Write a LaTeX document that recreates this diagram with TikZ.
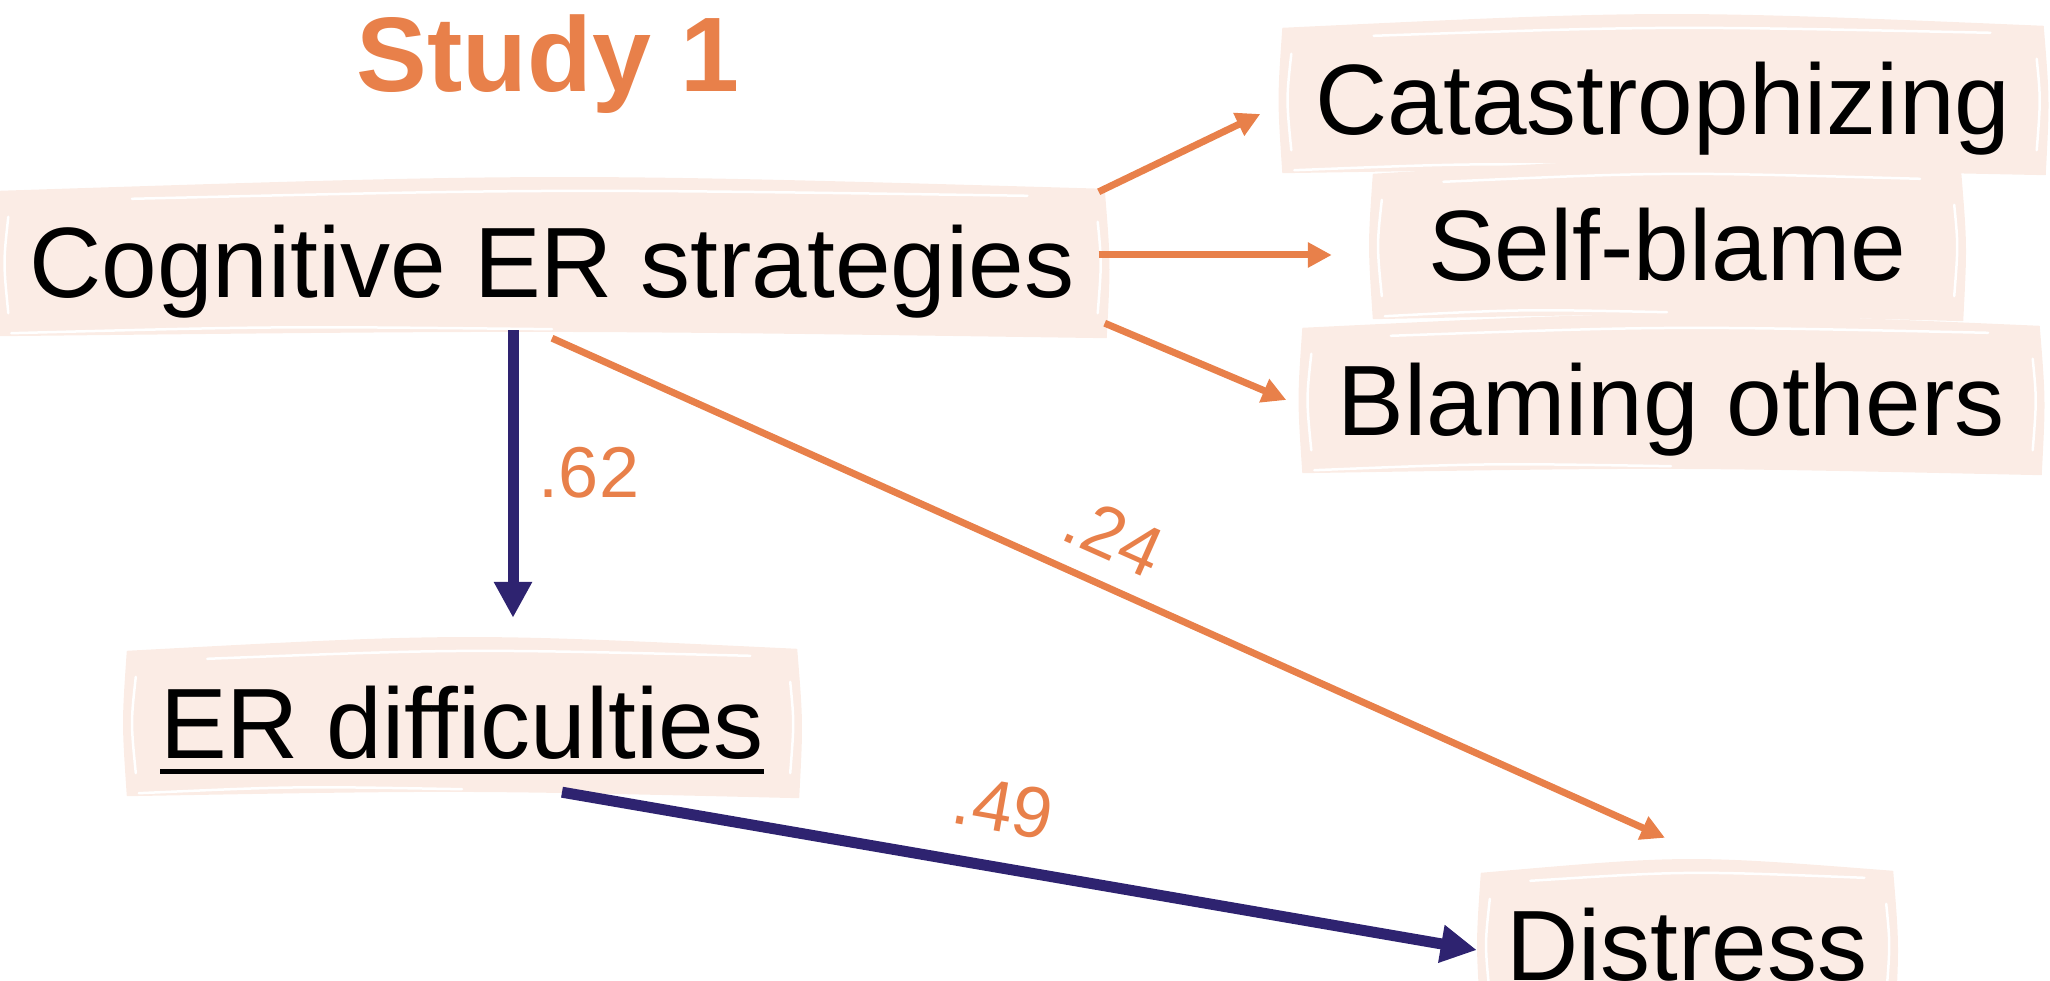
\documentclass[tikz,border=0pt]{standalone}
\usepackage{fontspec}
\setmainfont{Liberation Sans}
\usetikzlibrary{arrows.meta,backgrounds,calc}

\definecolor{studyorange}{HTML}{E8804A}
\definecolor{pathnavy}{HTML}{2E2370}
\definecolor{boxpeach}{HTML}{FBECE5}

\newcommand\boxfont{\fontsize{100}{110}\selectfont}
\newcommand\coeffont{\fontsize{72}{80}\selectfont}
\newcommand\titlefont{\fontsize{106}{120}\selectfont\bfseries}
\newcommand\underrule[1]{\setbox0\hbox{#1}\rlap{\rule[-15.5pt]{\wd0}{5pt}}\box0}

% hand-drawn looking box behind a node
\newcommand\sketchbox[1]{%
  \fill[boxpeach] ($(#1.north west)+(0,4)$)
    .. controls ($(#1.north)+(0,-14)$) .. ($(#1.north east)+(0,2)$)
    .. controls ($(#1.east)+(6,0)$) .. ($(#1.south east)+(2,0)$)
    .. controls ($(#1.south)+(0,-8)$) .. ($(#1.south west)+(0,-2)$)
    .. controls ($(#1.west)+(-5,0)$) .. ($(#1.north west)+(0,4)$) -- cycle;
  \draw[sketch] ($(#1.north west)!0.12!(#1.north east)+(0,12)$)
    .. controls ($(#1.north)+(0,2)$) .. ($(#1.north west)!0.93!(#1.north east)+(0,9)$);
  \draw[sketch] ($(#1.south west)+(12,-5)$)
    .. controls ($(#1.south west)!0.25!(#1.south east)+(0,-12)$) .. ($(#1.south)+(0,-9)$);
  \draw[sketch] ($(#1.north west)+(9,30)$)
    .. controls ($(#1.west)+(4,0)$) .. ($(#1.south west)+(9,-25)$);
  \draw[sketch] ($(#1.north east)+(-7,35)$)
    .. controls ($(#1.east)+(-3,0)$) .. ($(#1.south east)+(-7,-25)$);
}

\begin{document}
\begin{tikzpicture}[x=1pt,y=-1pt]

        \tikzset{
            box/.style={font=\boxfont, text height=71pt, text depth=0pt,
                inner xsep=0pt, inner ysep=40pt, anchor=base},
            coef/.style={font=\coeffont, text=studyorange, inner sep=0pt},
            sketch/.style={white, line width=2.5pt, line cap=round},
            orangearrow/.style={-{Triangle[length=24pt,width=24pt]},
                line width=7pt, studyorange},
            navyarrow/.style={-{Triangle[length=36pt,width=36pt]},
                line width=11pt, pathnavy}
        }

        \useasboundingbox (0,0) rectangle (2050,981);

        \node[font=\titlefont, text=studyorange, anchor=base] (title)
        at (548,92) {Study 1};

        \node[box, minimum width=1105pt] (cog) at (552,298) {Cognitive ER strategies};
        \node[box, minimum width=761pt] (cat) at (1663,135) {Catastrophizing};
        \node[box, minimum width=588pt] (self) at (1667,281) {Self-blame};
        \node[box, minimum width=737pt] (blame) at (1671,435) {Blaming others};
        \node[box, minimum width=670pt] (diff) at (462,758) {\underrule{ER difficulties}};
        \node[box, minimum width=412pt] (dist) at (1687,980) {Distress};

        \begin{scope}[on background layer]
            \sketchbox{cog}
            \sketchbox{cat}
            \sketchbox{self}
            \sketchbox{blame}
            \sketchbox{diff}
            \sketchbox{dist}
        \end{scope}

        \draw[orangearrow] ([shift={(-6,5)}]cog.north east) -- ([shift={(-22,14.5)}]cat.west);
        \draw[orangearrow] ([shift={(-6,-7.5)}]cog.east) -- ([shift={(-41,9.5)}]self.west);
        \draw[orangearrow] ([shift={(0,-15)}]cog.south east) -- ([shift={(-16,0.5)}]blame.west);

        \draw[navyarrow] ([shift={(-39,-8)}]cog.south) -- ([shift={(51,-29)}]diff.north);
        \draw[orangearrow] (cog.south) -- ([shift={(-22,-31)}]dist.north);
        \draw[navyarrow] ([shift={(100,-6)}]diff.south) -- ([shift={(-4,5.5)}]dist.west);

        \node[coef, anchor=base] (c62) at (589,497) {.62};
        \node[coef, rotate=-24] (c24) at (1114,536) {.24};
        \node[coef, rotate=-10] (c49) at (1003,807) {.49};

    \end{tikzpicture}
\end{document}
